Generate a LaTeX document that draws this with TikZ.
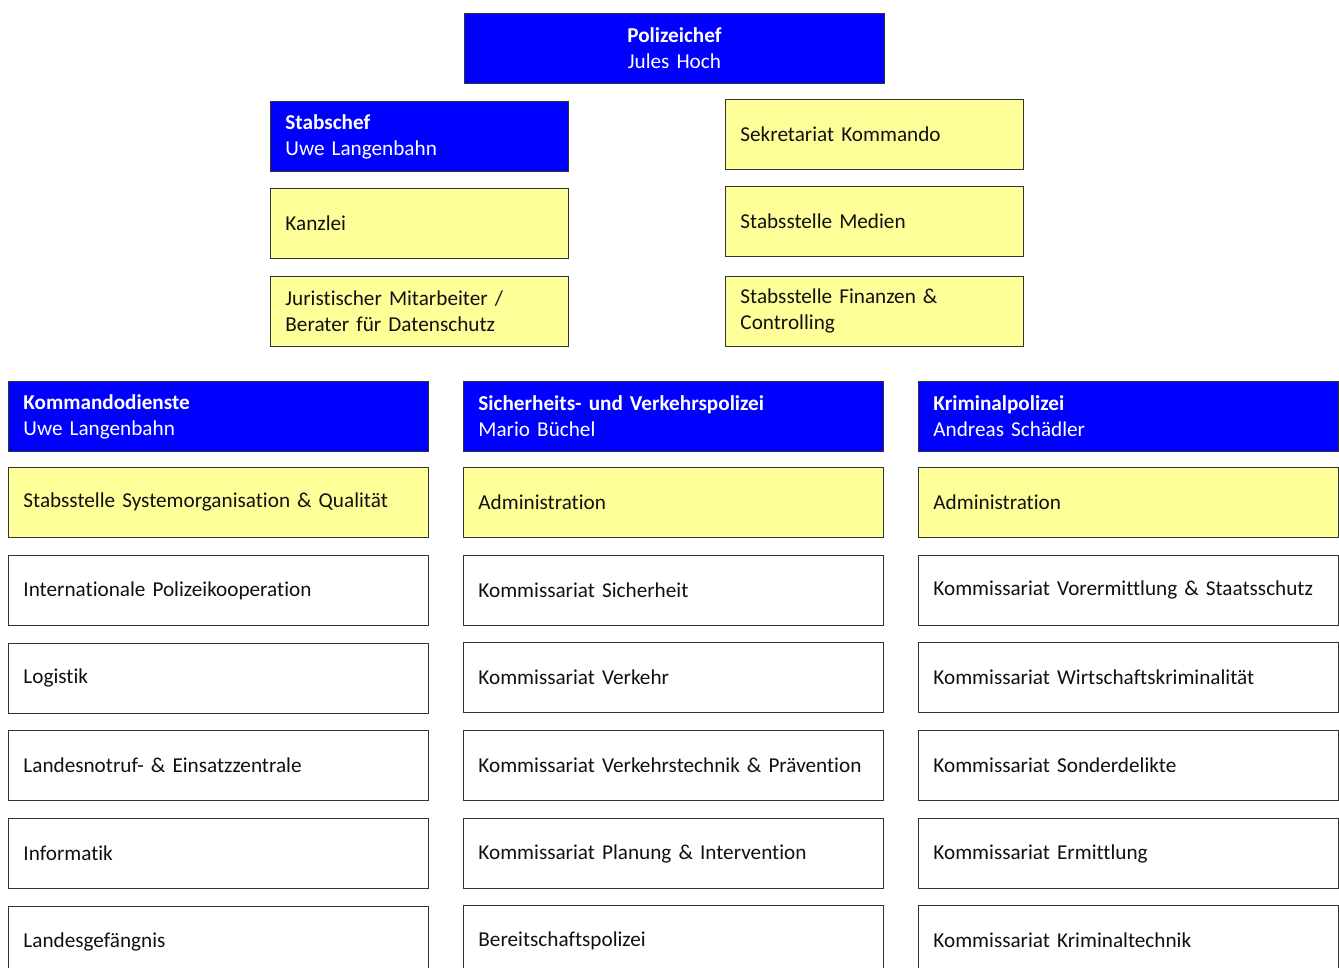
\documentclass[tikz,border=0pt]{standalone}
\usepackage{fontspec}
\setmainfont{Carlito}[Ligatures=NoCommon]
\definecolor{chefblue}{HTML}{0000FF}
\definecolor{paleyellow}{HTML}{FFFF99}
\definecolor{boxtext}{HTML}{111111}
\definecolor{boxline}{HTML}{333333}
\begin{document}
\begin{tikzpicture}[x=1pt,y=-1pt,
  base/.style={draw=boxline, line width=0.9pt, rectangle, anchor=north west,
    minimum height=70pt, inner xsep=15pt, inner ysep=0pt, align=left,
    font=\fontsize{21.2}{26}\selectfont},
  wide/.style={minimum width=420pt, text width=390pt},
  narrow/.style={minimum width=298pt, text width=268pt},
  bluebox/.style={base, fill=chefblue, text=white},
  yellowbox/.style={base, fill=paleyellow, text=boxtext},
  whitebox/.style={base, fill=white, text=boxtext}]
\useasboundingbox (0,0) rectangle (1339,967);
\clip (0,0) rectangle (1339,967);
% top
\node[bluebox, wide, align=center] (chef) at (464,13) {\textbf{Polizeichef}\\Jules Hoch};
% left staff column
\node[bluebox, narrow] (stabschef) at (270,101) {\textbf{Stabschef}\\Uwe Langenbahn};
\node[yellowbox, narrow] (kanzlei) at (270,188) {Kanzlei};
\node[yellowbox, narrow] (jurist) at (270,276) {Juristischer Mitarbeiter /\\Berater für Datenschutz};
% right staff column
\node[yellowbox, narrow] (sekretariat) at (725,99) {Sekretariat Kommando};
\node[yellowbox, narrow] (medien) at (725,186) {Stabsstelle Medien};
\node[yellowbox, narrow] (finanzen) at (725,276) {Stabsstelle Finanzen \&\\Controlling};
% column 1
\node[bluebox, wide] (kd) at (8,381) {\textbf{Kommandodienste}\\Uwe Langenbahn};
\node[yellowbox, wide] (kd1) at (8,467) {Stabsstelle Systemorganisation \& Qualität};
\node[whitebox, wide] (kd2) at (8,555) {Internationale Polizeikooperation};
\node[whitebox, wide] (kd3) at (8,643) {Logistik};
\node[whitebox, wide] (kd4) at (8,730) {Landesnotruf- \& Einsatzzentrale};
\node[whitebox, wide] (kd5) at (8,818) {Informatik};
\node[whitebox, wide] (kd6) at (8,906) {Landesgefängnis};
% column 2
\node[bluebox, wide] (sv) at (463,381) {\textbf{Sicherheits- und Verkehrspolizei}\\Mario Büchel};
\node[yellowbox, wide] (sv1) at (463,467) {Administration};
\node[whitebox, wide] (sv2) at (463,555) {Kommissariat Sicherheit};
\node[whitebox, wide] (sv3) at (463,642) {Kommissariat Verkehr};
\node[whitebox, wide] (sv4) at (463,730) {Kommissariat Verkehrstechnik \& Prävention};
\node[whitebox, wide] (sv5) at (463,818) {Kommissariat Planung \& Intervention};
\node[whitebox, wide] (sv6) at (463,905) {Bereitschaftspolizei};
% column 3
\node[bluebox, wide] (kp) at (918,381) {\textbf{Kriminalpolizei}\\Andreas Schädler};
\node[yellowbox, wide] (kp1) at (918,467) {Administration};
\node[whitebox, wide] (kp2) at (918,555) {Kommissariat Vorermittlung \& Staatsschutz};
\node[whitebox, wide] (kp3) at (918,642) {Kommissariat Wirtschaftskriminalität};
\node[whitebox, wide] (kp4) at (918,730) {Kommissariat Sonderdelikte};
\node[whitebox, wide] (kp5) at (918,818) {Kommissariat Ermittlung};
\node[whitebox, wide] (kp6) at (918,905) {Kommissariat Kriminaltechnik};
\end{tikzpicture}
\end{document}
